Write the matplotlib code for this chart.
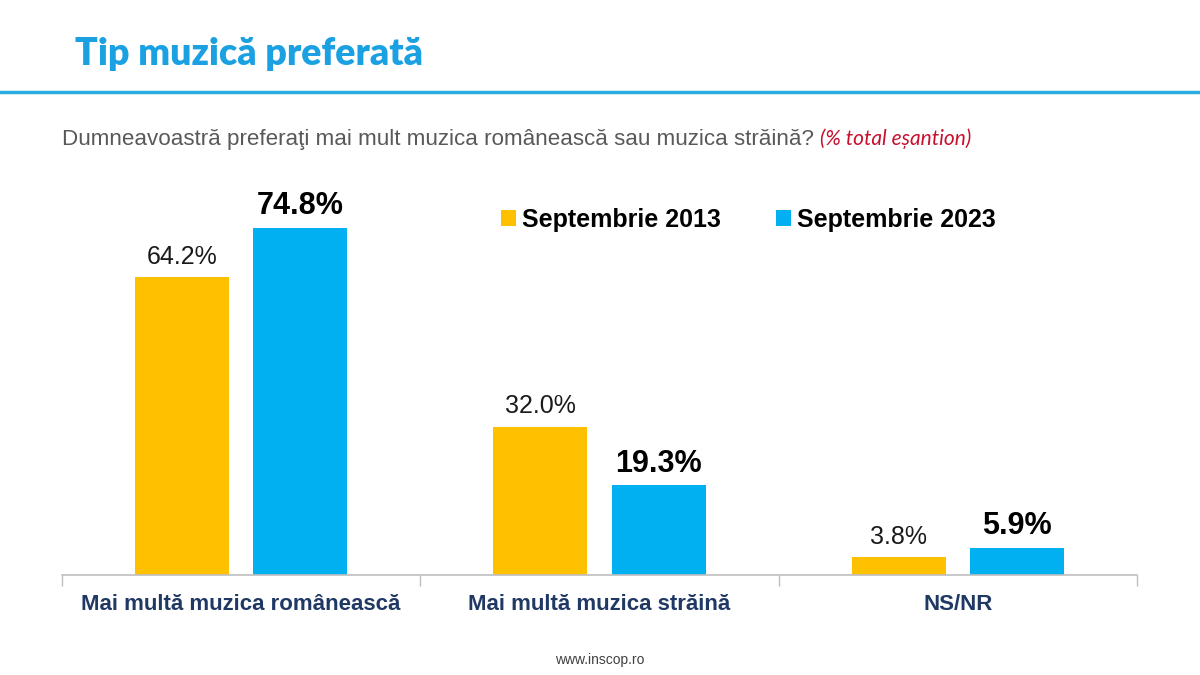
import numpy as np
import matplotlib.pyplot as plt

categories = ['Mai multă muzica românească', 'Mai multă muzica străină', 'NS/NR']
series_names = ['Septembrie 2013', 'Septembrie 2023']
values_2013 = [64.2, 32.0, 3.8]
values_2023 = [74.8, 19.3, 5.9]

yellow = '#FFC000'
blue = '#00B0F0'

fig = plt.figure(figsize=(12, 6.75), dpi=100)

# header
fig.text(75 / 1200, 1 - 54 / 675, 'Tip muzică preferată', family=['Lato', 'DejaVu Sans'],
         fontweight='heavy', fontsize=27, color='#1BA1E2', va='center', ha='left')
fig.add_artist(plt.Line2D([0, 1], [1 - 92 / 675, 1 - 92 / 675], color='#2AACE0', lw=2.5,
                          transform=fig.transFigure))
sub = fig.text(62 / 1200, 1 - 139 / 675,
               'Dumneavoastră preferaţi mai mult muzica românească sau muzica străină? ',
               family=['Liberation Sans', 'DejaVu Sans'], fontsize=16.1, color='#595959',
               va='center', ha='left')
fig.canvas.draw()
bb = sub.get_window_extent()
fig.text(bb.x1 / 1200, 1 - 139 / 675, '(% total eșantion)', family=['Lato', 'DejaVu Sans'],
         style='italic', fontsize=15, color='#C8102E', va='center', ha='left')

# axes
ax_bottom = 1 - 575 / 675
ax_top = 1 - 160 / 675
ax = fig.add_axes([62 / 1200, ax_bottom, (1137 - 62) / 1200, ax_top - ax_bottom])
px_per_unit = 347 / 74.8
ax.set_ylim(0, (575 - 160) / px_per_unit)
ax.set_xlim(-0.5, len(categories) - 0.5)

x = np.arange(len(categories))
w = 0.263
off = 0.165
b1 = ax.bar(x - off, values_2013, w, color=yellow, label=series_names[0])
b2 = ax.bar(x + off, values_2023, w, color=blue, label=series_names[1])

for xi, v in zip(x - off, values_2013):
    ax.annotate(f'{v:.1f}%', (xi, v), xytext=(0, 6), textcoords='offset points',
                ha='center', va='bottom', fontsize=18, color='#1a1a1a',
                family=['Liberation Sans', 'DejaVu Sans'])
for xi, v in zip(x + off, values_2023):
    ax.annotate(f'{v:.1f}%', (xi, v), xytext=(0, 5), textcoords='offset points',
                ha='center', va='bottom', fontsize=22, fontweight='bold', color='#000000',
                family=['Liberation Sans', 'DejaVu Sans'])

for s in ['top', 'right', 'left']:
    ax.spines[s].set_visible(False)
ax.spines['bottom'].set_color('#BFBFBF')
ax.spines['bottom'].set_linewidth(1.2)
ax.set_yticks([])
ax.set_xticks([-0.5, 0.5, 1.5, 2.5], minor=False)
ax.set_xticklabels([])
ax.tick_params(axis='x', length=8, color='#BFBFBF', width=1)
for xi, c in zip(x, categories):
    ax.text(xi, -0.07, c, transform=ax.get_xaxis_transform(), ha='center', va='center',
            fontsize=16, fontweight='bold', color='#203864',
            family=['Liberation Sans', 'DejaVu Sans'])

leg = ax.legend(loc='upper left', bbox_to_anchor=(416 / 1075, 1 - (185 - 160) / 415),
                ncol=2, frameon=False, handlelength=0.6, handleheight=0.6,
                handletextpad=0.25, columnspacing=2.2,
                prop={'family': ['Liberation Sans', 'DejaVu Sans'], 'weight': 'bold', 'size': 18})

fig.text(0.5, 1 - 660 / 675, 'www.inscop.ro', ha='center', va='center', fontsize=10,
         color='#404040', family=['Liberation Sans', 'DejaVu Sans'])

fig.savefig('out.png', dpi=100)
